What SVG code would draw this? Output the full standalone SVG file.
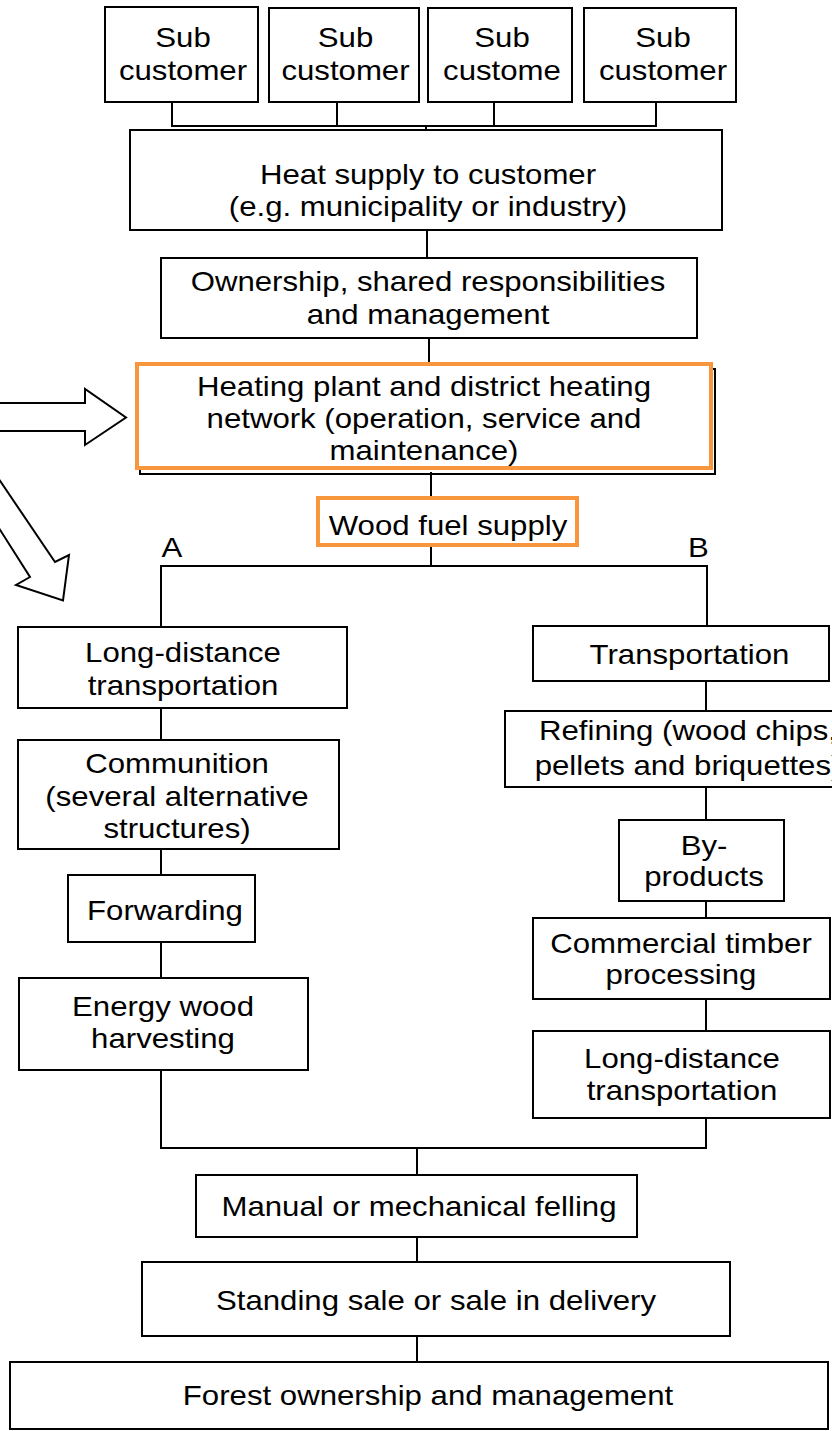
<svg xmlns="http://www.w3.org/2000/svg" width="832" height="1431" viewBox="0 0 832 1431">
<style>
.box{fill:#fff;stroke:#000;stroke-width:2}
.obox{fill:#fff;stroke:#F7963C;stroke-width:4}
.sh{fill:none;stroke:#000;stroke-width:2}
.ln{fill:none;stroke:#000;stroke-width:2}
.arr{fill:#fff;stroke:#000;stroke-width:2;stroke-linejoin:miter}
text{font-family:"Liberation Sans",Arial,sans-serif;font-size:27px;fill:#000}
</style>
<rect width="832" height="1431" fill="#fff"/>
<g id="connectors">
<path class="ln" d="M172,102V126M337,102V126M494,102V126M656,102V126M171,126H657M426,126V130"/>
<path class="ln" d="M427,230V258"/>
<path class="ln" d="M429,338V364"/>
<path class="ln" d="M431,472V498"/>
<path class="ln" d="M431,545V566M160,566H708M161,566V627M707,566V626"/>
<path class="ln" d="M161,708V740M161,849V875M161,942V978M161,1070V1148"/>
<path class="ln" d="M706,681V711M706,787V820M706,901V918M706,999V1031M706,1118V1148M160,1148H707"/>
<path class="ln" d="M417,1148V1175M417,1237V1262M417,1336V1362"/>
</g>
<g id="arrows">
<polygon class="arr" points="-10,403 85,403 85,389 126,417.5 85,445 85,431 -10,431"/>
<polygon class="arr" points="-10,466 55,562 69,555 63,600.5 16,585 30,577 -10,514"/>
</g>
<g id="sub1"><rect class="box" x="105" y="7" width="153" height="95"/>
<text transform="matrix(1.155 0 0 1 183 0)" text-anchor="middle"><tspan x="0" y="47">Sub</tspan><tspan x="0" y="80">customer</tspan></text></g>
<g id="sub2"><rect class="box" x="269" y="8" width="150" height="94"/>
<text transform="matrix(1.155 0 0 1 345.5 0)" text-anchor="middle"><tspan x="0" y="47">Sub</tspan><tspan x="0" y="80">customer</tspan></text></g>
<g id="sub3"><rect class="box" x="428" y="8" width="144" height="94"/>
<text transform="matrix(1.155 0 0 1 502 0)" text-anchor="middle"><tspan x="0" y="47">Sub</tspan><tspan x="0" y="80">custome</tspan></text></g>
<g id="sub4"><rect class="box" x="584" y="8" width="152" height="94"/>
<text transform="matrix(1.155 0 0 1 663 0)" text-anchor="middle"><tspan x="0" y="47">Sub</tspan><tspan x="0" y="80">customer</tspan></text></g>
<g id="heatsupply"><rect class="box" x="130" y="130" width="592" height="100"/>
<text transform="matrix(1.155 0 0 1 428 0)" text-anchor="middle"><tspan x="0" y="184">Heat supply to customer</tspan><tspan x="0" y="216">(e.g. municipality or industry)</tspan></text></g>
<g id="ownership"><rect class="box" x="161" y="258" width="536" height="80"/>
<text transform="matrix(1.155 0 0 1 428 0)" text-anchor="middle"><tspan x="0" y="291">Ownership, shared responsibilities</tspan><tspan x="0" y="324">and management</tspan></text></g>
<g id="heatingplant"><rect class="sh" x="140" y="369" width="575" height="105"/>
<rect class="obox" x="137" y="364" width="574" height="104"/>
<text transform="matrix(1.155 0 0 1 424 0)" text-anchor="middle"><tspan x="0" y="396">Heating plant and district heating</tspan><tspan x="0" y="428">network (operation, service and</tspan><tspan x="0" y="460">maintenance)</tspan></text></g>
<g id="woodfuel"><rect class="obox" x="318" y="498" width="259" height="47"/>
<text transform="matrix(1.155 0 0 1 448 0)" text-anchor="middle" x="0" y="535">Wood fuel supply</text></g>
<g id="labelA"><text transform="matrix(1.155 0 0 1 161.5 0)" x="0" y="557">A</text></g>
<g id="labelB"><text transform="matrix(1.155 0 0 1 688 0)" x="0" y="557">B</text></g>
<g id="a_longdist"><rect class="box" x="18" y="627" width="329" height="81"/>
<text transform="matrix(1.155 0 0 1 183 0)" text-anchor="middle"><tspan x="0" y="662">Long-distance</tspan><tspan x="0" y="695">transportation</tspan></text></g>
<g id="a_communition"><rect class="box" x="18" y="740" width="321" height="109"/>
<text transform="matrix(1.155 0 0 1 177 0)" text-anchor="middle"><tspan x="0" y="773">Communition</tspan><tspan x="0" y="806">(several alternative</tspan><tspan x="0" y="838">structures)</tspan></text></g>
<g id="a_forwarding"><rect class="box" x="68" y="875" width="187" height="67"/>
<text transform="matrix(1.155 0 0 1 165 0)" text-anchor="middle" x="0" y="920">Forwarding</text></g>
<g id="a_energy"><rect class="box" x="19" y="978" width="289" height="92"/>
<text transform="matrix(1.155 0 0 1 163 0)" text-anchor="middle"><tspan x="0" y="1016">Energy wood</tspan><tspan x="0" y="1048">harvesting</tspan></text></g>
<g id="b_transport"><rect class="box" x="533" y="626" width="296" height="55"/>
<text transform="matrix(1.155 0 0 1 689.5 0)" text-anchor="middle" x="0" y="664">Transportation</text></g>
<g id="b_refining"><rect class="box" x="505" y="711" width="340" height="76"/>
<text transform="matrix(1.155 0 0 1 688 0)" text-anchor="middle"><tspan x="0" y="740">Refining (wood chips,</tspan><tspan x="0" y="775">pellets and briquettes)</tspan></text></g>
<g id="b_byproducts"><rect class="box" x="619" y="820" width="165" height="81"/>
<text transform="matrix(1.155 0 0 1 704 0)" text-anchor="middle"><tspan x="0" y="855">By-</tspan><tspan x="0" y="886">products</tspan></text></g>
<g id="b_commercial"><rect class="box" x="533" y="918" width="297" height="81"/>
<text transform="matrix(1.155 0 0 1 681 0)" text-anchor="middle"><tspan x="0" y="953">Commercial timber</tspan><tspan x="0" y="984">processing</tspan></text></g>
<g id="b_longdist"><rect class="box" x="533" y="1031" width="297" height="87"/>
<text transform="matrix(1.155 0 0 1 682 0)" text-anchor="middle"><tspan x="0" y="1068">Long-distance</tspan><tspan x="0" y="1100">transportation</tspan></text></g>
<g id="felling"><rect class="box" x="196" y="1175" width="441" height="62"/>
<text transform="matrix(1.155 0 0 1 419 0)" text-anchor="middle" x="0" y="1216">Manual or mechanical felling</text></g>
<g id="standing"><rect class="box" x="142" y="1262" width="588" height="74"/>
<text transform="matrix(1.155 0 0 1 436 0)" text-anchor="middle" x="0" y="1310">Standing sale or sale in delivery</text></g>
<g id="forest"><rect class="box" x="10" y="1362" width="818" height="67"/>
<text transform="matrix(1.155 0 0 1 428 0)" text-anchor="middle" x="0" y="1405">Forest ownership and management</text></g>
</svg>
